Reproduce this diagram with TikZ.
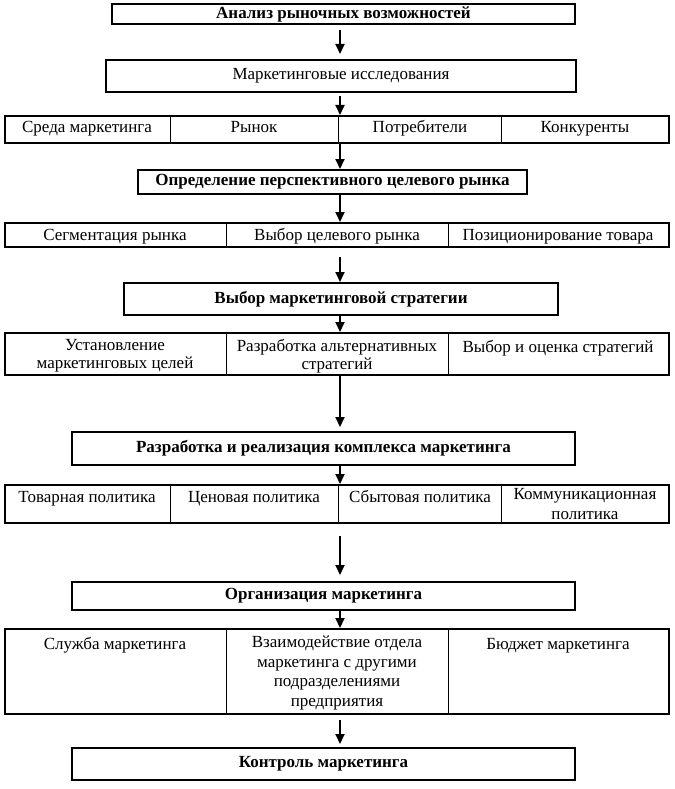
\documentclass[tikz,border=0pt]{standalone}
\usepackage{fontspec}
\setmainfont{Liberation Serif}
\usetikzlibrary{arrows.meta}

\tikzset{
  stage/.style={draw, line width=2pt, inner sep=0pt, font=\fontsize{17}{19}\selectfont\bfseries},
  row/.style={draw, line width=1.6pt, inner sep=0pt, anchor=north west, minimum width=664pt},
  cell/.style={anchor=north, align=center, inner sep=0pt, font=\fontsize{17}{19.5}\selectfont,
    execute at begin node={\strut}},
  divider/.style={line width=0.8pt},
  arr/.style={line width=2pt, -{Triangle[length=10pt,width=9pt]}}
}

\begin{document}
\begin{tikzpicture}[x=1pt, y=-1pt]
  \useasboundingbox (0,0) rectangle (674,789);

  % column positions
  \coordinate (ax) at (340,0);
  \coordinate (q1) at (170,0);
  \coordinate (q2) at (338,0);
  \coordinate (q3) at (501,0);
  \coordinate (t1) at (226,0);
  \coordinate (t2) at (448,0);

  % stages
  \node[stage, minimum width=463pt, minimum height=20pt] (b1) at (343.5,14) {Анализ рыночных возможностей};
  \node[stage, font=\fontsize{17}{19}\selectfont, minimum width=470pt, minimum height=32pt] (b2) at (341,76) {Маркетинговые исследования};
  \node[stage, minimum width=389pt, minimum height=24pt] (b4) at (332.5,182) {Определение перспективного целевого рынка};
  \node[stage, minimum width=434pt, minimum height=32pt] (b6) at (341,299) {Выбор маркетинговой стратегии};
  \node[stage, minimum width=503pt, minimum height=33pt] (b8) at (323.5,448.5) {Разработка и реализация комплекса маркетинга};
  \node[stage, minimum width=503pt, minimum height=28pt] (b10) at (323.5,596) {Организация маркетинга};
  \node[stage, minimum width=503pt, minimum height=32pt] (b12) at (323.5,764) {Контроль маркетинга};

  % research row
  \node[row, minimum height=27pt] (r3) at (4,115) {};
  \node[cell] (r3a) at (87,119) {Среда маркетинга};
  \node[cell] (r3b) at (254,119) {Рынок};
  \node[cell] (r3c) at (420,119) {Потребители};
  \node[cell] (r3d) at (585,119) {Конкуренты};
  \foreach \d in {q1,q2,q3}
    \draw[divider] (r3.north -| \d) -- (r3.south -| \d);

  % target market row
  \node[row, minimum height=24pt] (r5) at (4,222) {};
  \node[cell] (r5a) at (115,226.5) {Сегментация рынка};
  \node[cell] (r5b) at (337,226.5) {Выбор целевого рынка};
  \node[cell] (r5c) at (558,226.5) {Позиционирование товара};
  \foreach \d in {t1,t2}
    \draw[divider] (r5.north -| \d) -- (r5.south -| \d);

  % strategy row
  \node[row, minimum height=42pt] (r7) at (4,332) {};
  \node[cell, font=\fontsize{17}{18.5}\selectfont] (r7a) at (115,339) {Установление\\маркетинговых целей};
  \node[cell, font=\fontsize{17}{18.5}\selectfont] (r7b) at (337,339) {Разработка альтернативных\\стратегий};
  \node[cell] (r7c) at (558,339) {Выбор и оценка стратегий};
  \foreach \d in {t1,t2}
    \draw[divider] (r7.north -| \d) -- (r7.south -| \d);

  % marketing mix row
  \node[row, minimum height=38pt] (r9) at (4,484) {};
  \node[cell] (r9a) at (87,488.5) {Товарная политика};
  \node[cell] (r9b) at (254,488.5) {Ценовая политика};
  \node[cell] (r9c) at (420,488.5) {Сбытовая политика};
  \node[cell] (r9d) at (585,488.5) {Коммуникационная\\политика};
  \foreach \d in {q1,q2,q3}
    \draw[divider] (r9.north -| \d) -- (r9.south -| \d);

  % organisation row
  \node[row, minimum height=85pt] (r11) at (4,628) {};
  \node[cell] (r11a) at (115,636) {Служба маркетинга};
  \node[cell] (r11b) at (337,636) {Взаимодействие отдела\\маркетинга с другими\\подразделениями\\предприятия};
  \node[cell] (r11c) at (558,636) {Бюджет маркетинга};
  \foreach \d in {t1,t2}
    \draw[divider] (r11.north -| \d) -- (r11.south -| \d);

  % arrows
  \draw[arr, shorten <=5pt, shorten >=5pt] (b1.south -| ax) -- (b2.north -| ax);
  \draw[arr, shorten <=3pt] (b2.south -| ax) -- (r3.north -| ax);
  \draw[arr] (r3.south -| ax) -- (b4.north -| ax);
  \draw[arr] (b4.south -| ax) -- (r5.north -| ax);
  \draw[arr, shorten <=9pt] (r5.south -| ax) -- (b6.north -| ax);
  \draw[arr] (b6.south -| ax) -- (r7.north -| ax);
  \draw[arr, shorten >=4pt] (r7.south -| ax) -- (b8.north -| ax);
  \draw[arr] (b8.south -| ax) -- (r9.north -| ax);
  \draw[arr, shorten <=12pt, shorten >=6pt] (r9.south -| ax) -- (b10.north -| ax);
  \draw[arr] (b10.south -| ax) -- (r11.north -| ax);
  \draw[arr, shorten <=5pt, shorten >=3pt] (r11.south -| ax) -- (b12.north -| ax);
\end{tikzpicture}
\end{document}
